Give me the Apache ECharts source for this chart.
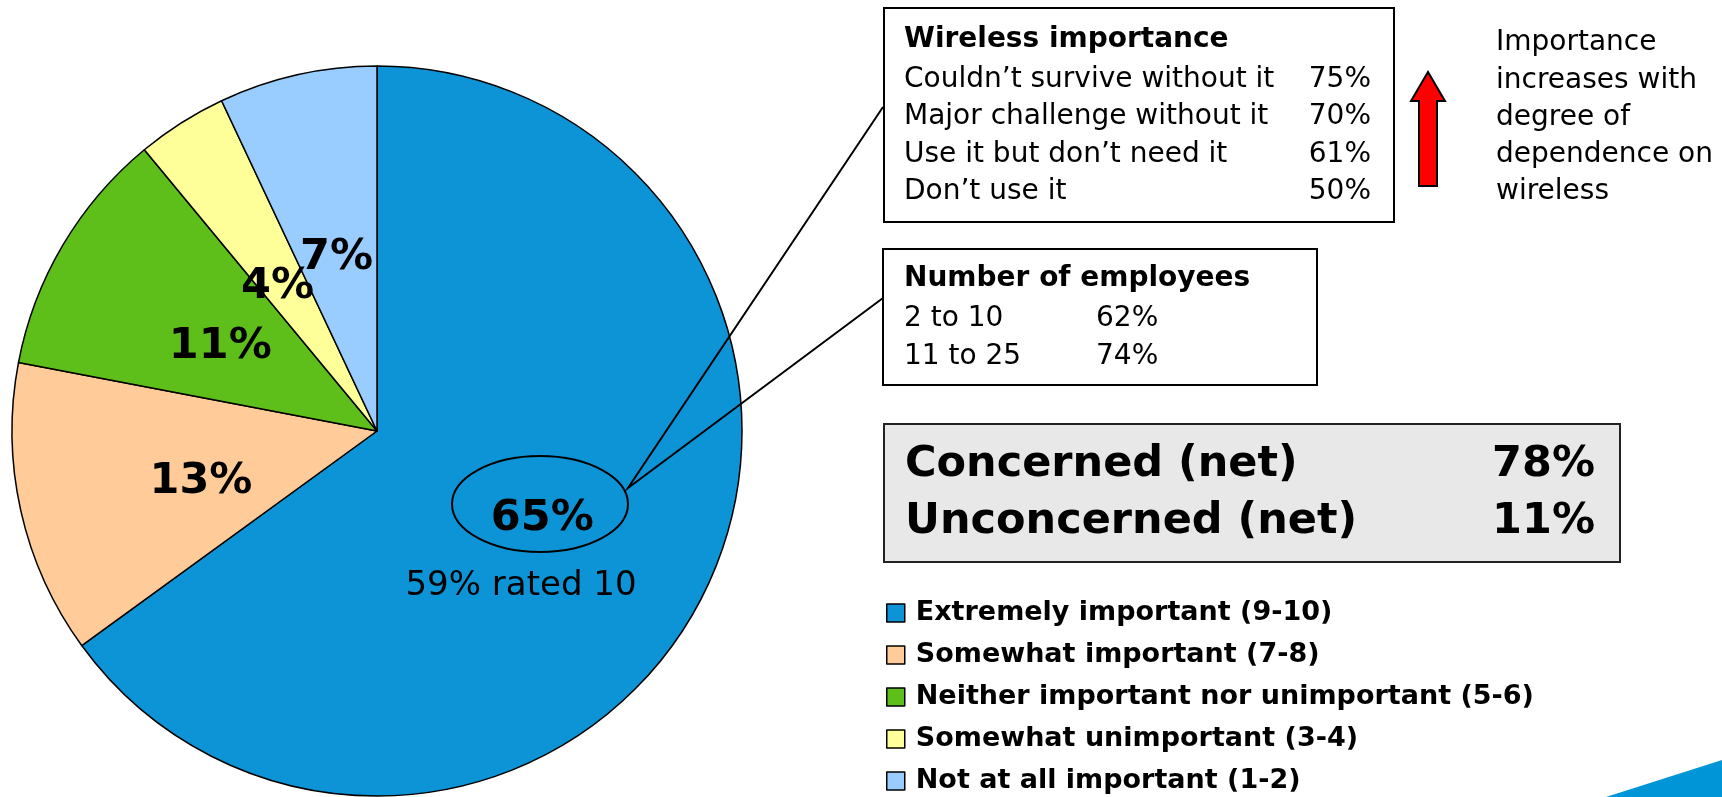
<!DOCTYPE html>
<html>
<head>
<meta charset="utf-8">
<script src="https://cdn.jsdelivr.net/npm/echarts@6/dist/echarts.min.js"></script>
<style>
html,body{margin:0;padding:0;background:#fff;}
#chart{width:1722px;height:797px;}
</style>
</head>
<body>
<div id="chart"></div>
<script>
// ---- data ----
const categories = ['Extremely important (9-10)', 'Somewhat important (7-8)', 'Neither important nor unimportant (5-6)', 'Somewhat unimportant (3-4)', 'Not at all important (1-2)'];
const values = [65, 13, 11, 4, 7];
const sliceColors = ['#0C94D6', '#FFCC99', '#5FBF1A', '#FFFF99', '#99CCFF'];
const wirelessTitle = 'Wireless importance';
const wirelessRows = ['Couldn\u2019t survive without it', 'Major challenge without it', 'Use it but don\u2019t need it', 'Don\u2019t use it'];
const wirelessValues = [75, 70, 61, 50];
const employeeTitle = 'Number of employees';
const employeeRows = ['2 to 10', '11 to 25'];
const employeeValues = [62, 74];
const netRows = ['Concerned (net)', 'Unconcerned (net)'];
const netValues = [78, 11];
const topNote = '59% rated 10';
const sideNote = ['Importance', 'increases with', 'degree of', 'dependence on', 'wireless'];

// ---- chart ----
const FF = 'DejaVu Sans';
const labelOffsets = [[0, 4], [5, 10], [3, 10], [0, 12], [0, 8]];
const chart = echarts.init(document.getElementById('chart'), null, {renderer: 'canvas'});

const graphics = [];
function txt(x, y, s, size, bold, align) {
  graphics.push({type: 'text', x: x, y: y, z: 100,
    style: {text: s, font: (bold ? 'bold ' : '') + size + 'px "' + FF + '"', fill: '#000',
      textAlign: align || 'left', textVerticalAlign: 'middle'}});
}
// callout ellipse and lines
graphics.push({type: 'ellipse', z: 100, shape: {cx: 540, cy: 504, rx: 88, ry: 48},
  style: {fill: 'none', stroke: '#000', lineWidth: 2}});
graphics.push({type: 'polyline', z: 100, shape: {points: [[883, 107], [628, 488], [883, 298]]},
  style: {fill: 'none', stroke: '#000', lineWidth: 2}});
txt(521, 586, topNote, 34, false, 'center');

// box 1
graphics.push({type: 'rect', z: 100, shape: {x: 884, y: 8, width: 510, height: 214},
  style: {fill: '#fff', stroke: '#000', lineWidth: 2}});
txt(904, 40, wirelessTitle, 28, true);
const wy = [80, 117, 155, 192];
wirelessRows.forEach((r, i) => { txt(904, wy[i], r, 28, false); txt(1371, wy[i], wirelessValues[i] + '%', 28, false, 'right'); });
// arrow
graphics.push({type: 'polygon', z: 100, shape: {points: [[1428, 72], [1445, 101], [1437, 101], [1437, 186], [1419, 186], [1419, 101], [1411, 101]]},
  style: {fill: '#FF0000', stroke: '#000', lineWidth: 2}});
const sy = [43, 81, 118, 155, 192];
sideNote.forEach((s, i) => txt(1496, sy[i], s, 28, false));

// box 2
graphics.push({type: 'rect', z: 100, shape: {x: 883, y: 249, width: 434, height: 136},
  style: {fill: '#fff', stroke: '#000', lineWidth: 2}});
txt(904, 279, employeeTitle, 28, true);
const ey = [319, 357];
employeeRows.forEach((r, i) => { txt(904, ey[i], r, 28, false); txt(1096, ey[i], employeeValues[i] + '%', 28, false); });

// box 3
graphics.push({type: 'rect', z: 100, shape: {x: 884, y: 424, width: 736, height: 138},
  style: {fill: '#E8E8E8', stroke: '#222', lineWidth: 2}});
const ny = [465, 522];
netRows.forEach((r, i) => { txt(905, ny[i], r, 43, true); txt(1595, ny[i], netValues[i] + '%', 43, true, 'right'); });

// corner swoosh
graphics.push({type: 'polygon', z: 100, shape: {points: [[1606, 797], [1722, 760], [1722, 797]]},
  style: {fill: '#0095D6'}});

chart.setOption({
  animation: false,
  backgroundColor: '#fff',
  color: sliceColors,
  legend: {
    orient: 'vertical', left: 886, top: 598, padding: 0,
    itemWidth: 18, itemHeight: 18, itemGap: 12,
    icon: 'rect',
    itemStyle: {borderColor: '#000', borderWidth: 1.5},
    textStyle: {fontFamily: FF, fontSize: 27, fontWeight: 'bold', color: '#000', lineHeight: 30, padding: [0, 0, 0, 6]},
    data: categories
  },
  series: [{
    type: 'pie',
    center: [377, 431],
    radius: 365,
    startAngle: 90,
    clockwise: true,
    avoidLabelOverlap: false,
    minShowLabelAngle: 0,
    silent: true,
    itemStyle: {borderColor: '#000', borderWidth: 1.5},
    label: {show: true, position: 'inside', formatter: '{c}%', fontFamily: FF, fontSize: 43, fontWeight: 'bold', color: '#000', textBorderWidth: 0},
    labelLayout: {hideOverlap: false},
    labelLine: {show: false},
    emphasis: {disabled: true},
    data: categories.map((c, i) => ({name: c, value: values[i], label: {offset: labelOffsets[i]}}))
  }],
  graphic: graphics
});
</script>
</body>
</html>
